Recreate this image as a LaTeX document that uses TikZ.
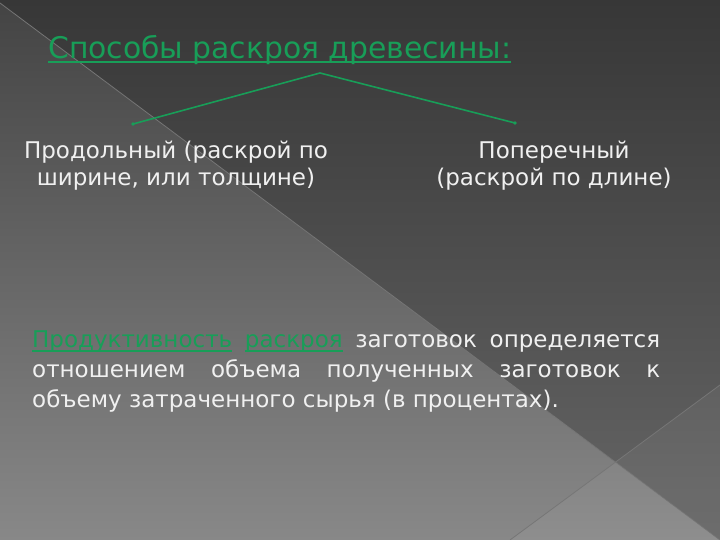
\documentclass[tikz,border=0pt]{standalone}
\usepackage{fontspec}
\setmainfont{DejaVu Sans}
\usetikzlibrary{positioning}

\definecolor{linkgreen}{RGB}{24,158,88}
\definecolor{slidetext}{RGB}{240,240,240}
\definecolor{bgdark}{RGB}{55,55,55}
\definecolor{bgmid}{RGB}{102,102,102}
\definecolor{bgsoft}{RGB}{68,68,68}
\definecolor{bglight}{RGB}{136,136,136}
\definecolor{edgeline}{RGB}{118,118,118}

% underlined word
\newcommand{\gul}[1]{\setbox0\hbox{#1}\rlap{\rule[-4pt]{\wd0}{1.6pt}}\box0}

\tikzset{
  branch/.style={linkgreen, line width=1.6pt},
  kind/.style={slidetext, align=center, inner sep=0pt, font=\fontsize{23}{27}\selectfont},
  bodytext/.style={slidetext, align=left, inner sep=0pt, font=\fontsize{23}{30}\selectfont},
}

\begin{document}
\begin{tikzpicture}[x=1pt, y=-1pt]
    % Background
    \useasboundingbox (0,0) rectangle (720,540);
    \fill[top color=bgdark, bottom color=bgmid] (0,0) rectangle (720,540);
    \fill[top color=bgsoft, bottom color=bglight] (0,3) -- (720,540) -- (0,540) -- cycle;
    \fill[white, opacity=0.05] (510,540) -- (720,385) -- (720,540) -- cycle;
    \draw[edgeline, line width=0.8pt] (0,3) -- (720,540);
    \draw[edgeline, line width=0.8pt] (720,385) -- (510,540);

    % Title
    \node[linkgreen, anchor=base west, inner sep=0pt, font=\fontsize{29.8}{33}\selectfont] (title) at (48,59)
        {\gul{Способы раскроя древесины:}};

    % Branches
    \coordinate (split) at (320,73);
    \coordinate (lend) at (133,124);
    \coordinate (rend) at (515,123);
    \draw[branch] (lend) -- (split) -- (rend);
    \fill[linkgreen] (lend) circle (1.8) (rend) circle (1.8);

    % Kinds of cutting
    \node[kind, anchor=north] (along) at (176,141) {Продольный (раскрой по\\ширине, или толщине)};
    \node[kind, anchor=north] (across) at (554,141) {Поперечный\\(раскрой по длине)};

    % Productivity
    \node[bodytext, anchor=north west] (yield) at (32,331)
        {\makebox[628pt][s]{{\color{linkgreen}\gul{Продуктивность}} {\color{linkgreen}\gul{раскроя}} заготовок определяется}\\
         \makebox[628pt][s]{отношением объема полученных заготовок к}\\
         объему затраченного сырья (в процентах).};
\end{tikzpicture}
\end{document}
